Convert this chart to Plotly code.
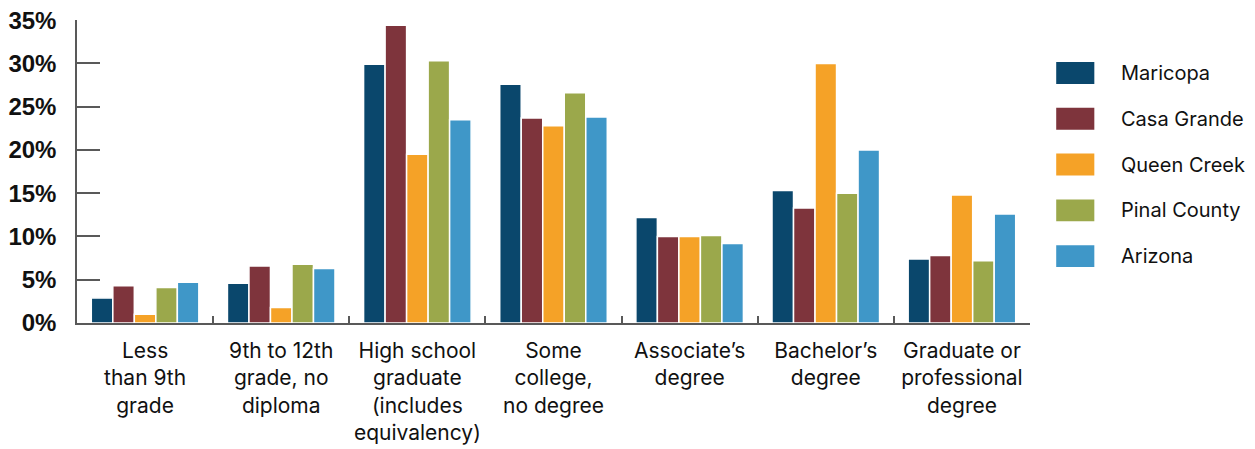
import plotly.graph_objects as go

# Educational attainment share by area (%)
categories = [
    "Less<br>than 9th<br>grade",
    "9th to 12th<br>grade, no<br>diploma",
    "High school<br>graduate<br>(includes<br>equivalency)",
    "Some<br>college,<br>no degree",
    "Associate’s<br>degree",
    "Bachelor’s<br>degree",
    "Graduate or<br>professional<br>degree",
]

maricopa = [2.9, 4.6, 29.9, 27.6, 12.2, 15.3, 7.4]
casa_grande = [4.3, 6.6, 34.4, 23.7, 10.0, 13.3, 7.8]
queen_creek = [1.0, 1.8, 19.5, 22.8, 10.0, 30.0, 14.8]
pinal_county = [4.1, 6.8, 30.3, 26.6, 10.1, 15.0, 7.2]
arizona = [4.7, 6.3, 23.5, 23.8, 9.2, 20.0, 12.6]

series_names = ["Maricopa", "Casa Grande", "Queen Creek", "Pinal County", "Arizona"]
series_values = [maricopa, casa_grande, queen_creek, pinal_county, arizona]
colors = ["#0A476C", "#7E343C", "#F5A227", "#9BA84B", "#3F97C8"]

y_ticks = [0, 5, 10, 15, 20, 25, 30, 35]
y_tick_labels = [f"{v}%" for v in y_ticks]

axis_color = "#595959"
text_color = "#111111"
font_family = "Inter, Noto Sans, sans-serif"

fig = go.Figure()
for name, vals, col in zip(series_names, series_values, colors):
    fig.add_trace(
        go.Bar(
            x=categories,
            y=vals,
            name=name,
            marker_color=col,
            marker_line=dict(color="white", width=1.5),
            showlegend=False,
        )
    )

# Legend drawn by hand so the swatches can be wide rectangles like the original
for i, (name, col) in enumerate(zip(series_names, colors)):
    y_c = 0.825 - i * 0.151
    fig.add_shape(
        type="rect", xref="paper", yref="paper",
        x0=1.0275, x1=1.0675, y0=y_c - 0.036, y1=y_c + 0.036,
        fillcolor=col, line=dict(color=col, width=0),
    )
    fig.add_annotation(
        xref="paper", yref="paper", x=1.093, y=y_c,
        text=name, showarrow=False, xanchor="left", yanchor="middle",
        font=dict(size=20, color=text_color, family=font_family),
    )

# the page body adds an 8px offset, so margins are trimmed by that amount
fig.update_layout(
    width=1255,
    height=449,
    margin=dict(l=69, r=233, t=12, b=134, autoexpand=False),
    paper_bgcolor="white",
    plot_bgcolor="white",
    barmode="group",
    bargap=0.21,
    bargroupgap=0,
    font=dict(family=font_family, color=text_color),
    xaxis=dict(
        automargin=False,
        showline=True,
        linecolor=axis_color,
        linewidth=1.5,
        ticks="inside",
        tickson="boundaries",
        ticklen=7,
        tickcolor=axis_color,
        tickwidth=1.5,
        tickangle=0,
        tickfont=dict(size=21, color=text_color),
        ticklabelstandoff=8,
        showgrid=False,
    ),
    yaxis=dict(
        automargin=False,
        range=[0, 35.02],
        tickvals=y_ticks,
        ticktext=y_tick_labels,
        showline=True,
        linecolor=axis_color,
        linewidth=1.5,
        ticks="inside",
        ticklen=23,
        tickcolor=axis_color,
        tickwidth=1.5,
        tickfont=dict(size=24, color=text_color, family="Liberation Sans, Arial, sans-serif", weight="bold"),
        ticklabelstandoff=14,
        ticklabeloverflow="allow",
        showgrid=False,
        zeroline=False,
    ),
)

fig.write_html("out.html")
